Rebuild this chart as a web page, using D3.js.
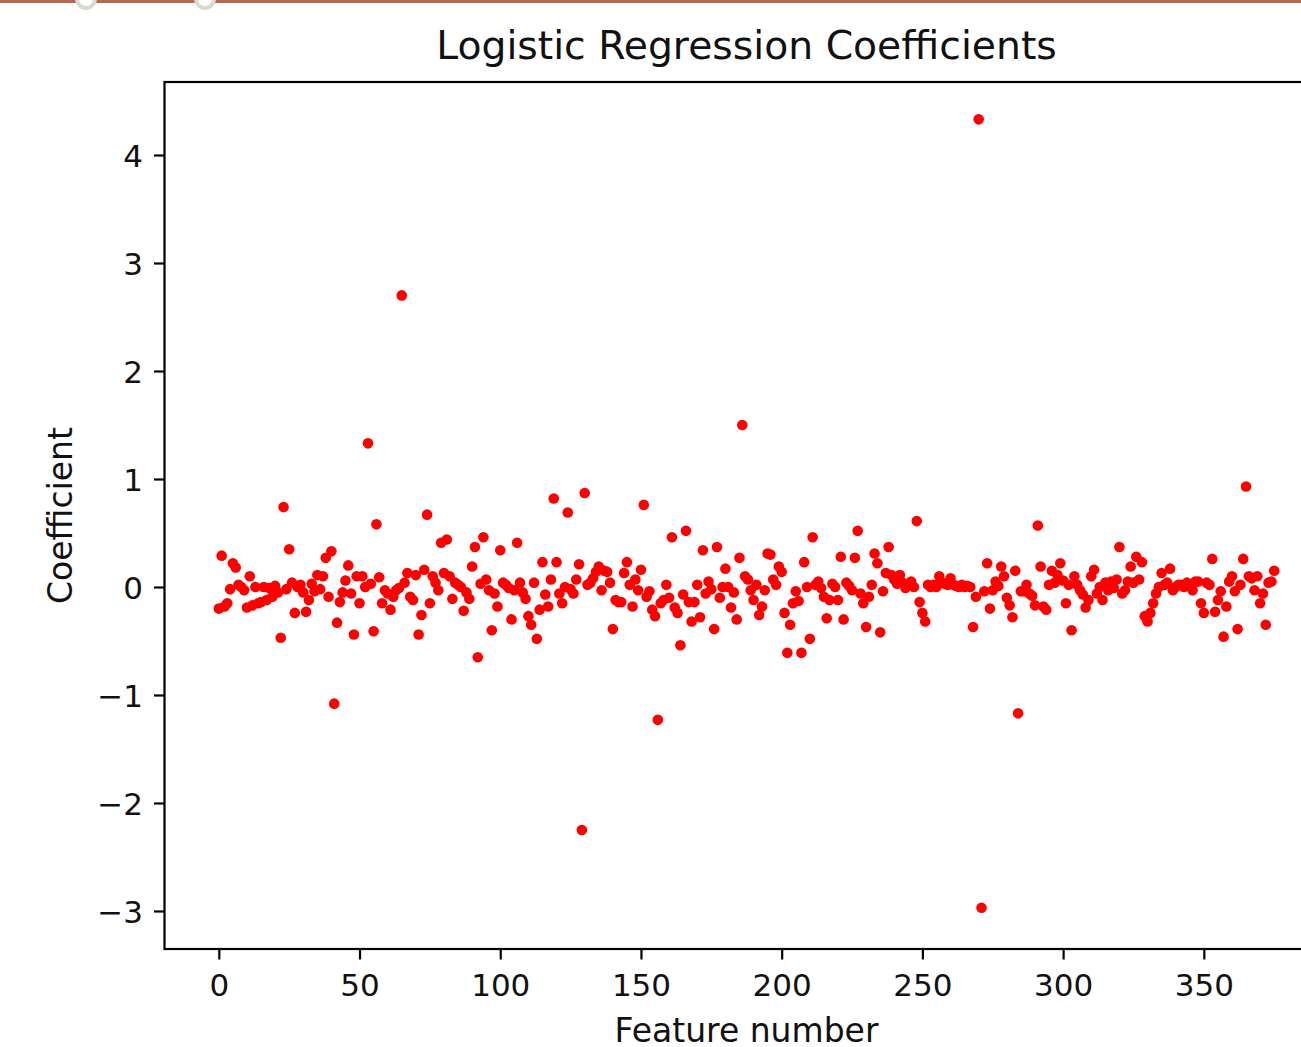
<!DOCTYPE html>
<html>
<head>
<meta charset="utf-8">
<script src="https://cdn.jsdelivr.net/npm/d3@7"></script>
<style>
  body { margin: 0; background: #fff; }
  text { font-family: "DejaVu Sans", sans-serif; fill: #111; }
</style>
</head>
<body>
<svg id="chart"></svg>
<script>
// coefficient of each feature, feature number = position in the array
const coefficients = [
  -0.20, 0.29, -0.18, -0.15, -0.02, 0.22, 0.18, 0.02, 0.00, -0.03,
  -0.19, 0.10, -0.17, 0.00, -0.15, -0.14, 0.00, -0.12, -0.01, -0.09,
  0.01, -0.05, -0.47, 0.74, -0.02, 0.35, 0.04, -0.24, 0.00, 0.02,
  -0.05, -0.23, -0.12, 0.03, -0.04, 0.11, -0.02, 0.10, 0.27, -0.09,
  0.33, -1.08, -0.33, -0.14, -0.05, 0.06, 0.20, -0.06, -0.44, 0.10,
  -0.15, 0.10, 0.00, 1.33, 0.03, -0.41, 0.58, 0.09, -0.15, -0.03,
  -0.06, -0.21, -0.09, -0.03, -0.01, 2.70, 0.04, 0.13, -0.09, -0.12,
  0.11, -0.44, -0.26, 0.16, 0.67, -0.15, 0.10, 0.04, -0.03, 0.41,
  0.13, 0.44, 0.10, -0.11, 0.04, 0.02, 0.00, -0.22, -0.05, -0.11,
  0.19, 0.37, -0.65, 0.03, 0.46, 0.07, -0.03, -0.40, -0.06, -0.18,
  0.34, 0.04, 0.02, -0.01, -0.30, -0.03, 0.41, 0.04, -0.05, -0.11,
  -0.27, -0.35, 0.04, -0.48, -0.21, 0.23, -0.07, -0.18, 0.07, 0.82,
  0.23, -0.06, -0.15, 0.00, 0.69, -0.02, -0.06, 0.07, 0.21, -2.25,
  0.87, 0.02, 0.04, 0.08, 0.14, 0.19, -0.03, 0.15, 0.14, 0.04,
  -0.39, -0.12, -0.14, -0.14, 0.13, 0.23, 0.02, -0.18, 0.07, -0.03,
  0.16, 0.76, -0.09, -0.04, -0.21, -0.27, -1.23, -0.15, -0.12, 0.02,
  -0.10, 0.46, -0.19, -0.24, -0.54, -0.07, 0.52, -0.14, -0.32, -0.14,
  0.02, -0.28, 0.34, -0.06, 0.05, -0.02, -0.39, 0.37, -0.10, 0.00,
  0.17, 0.00, -0.19, -0.05, -0.30, 0.27, 1.50, 0.10, 0.07, -0.03,
  -0.12, 0.02, -0.26, -0.18, -0.03, 0.31, 0.30, 0.07, 0.02, 0.19,
  0.14, -0.24, -0.61, -0.35, -0.15, -0.04, -0.13, -0.61, 0.23, 0.00,
  -0.48, 0.46, 0.02, 0.05, -0.01, -0.09, -0.29, -0.12, 0.03, 0.00,
  -0.12, 0.28, -0.30, 0.04, 0.01, -0.03, 0.27, 0.52, -0.06, -0.15,
  -0.37, -0.09, 0.02, 0.31, 0.22, -0.42, -0.04, 0.13, 0.37, 0.11,
  0.07, 0.03, 0.11, 0.04, -0.01, 0.02, 0.05, 0.00, 0.61, -0.14,
  -0.24, -0.32, 0.02, 0.00, 0.02, 0.00, 0.10, 0.04, 0.03, 0.02,
  0.08, 0.02, 0.01, 0.00, 0.02, 0.00, 0.01, 0.00, -0.37, -0.09,
  4.33, -2.97, -0.04, 0.22, -0.20, -0.03, 0.05, 0.01, 0.19, 0.10,
  -0.10, -0.17, -0.28, 0.15, -1.17, -0.04, -0.04, 0.02, -0.06, -0.08,
  -0.17, 0.57, 0.19, -0.18, -0.21, 0.02, 0.15, 0.04, 0.11, 0.22,
  0.06, -0.15, 0.02, -0.40, 0.10, 0.02, -0.03, -0.07, -0.19, -0.12,
  0.10, 0.16, -0.06, 0.00, -0.12, 0.04, -0.03, 0.05, -0.01, 0.07,
  0.37, -0.06, -0.03, 0.05, 0.19, 0.04, 0.28, 0.07, 0.23, -0.27,
  -0.32, -0.24, -0.15, -0.06, 0.00, 0.13, 0.02, 0.04, 0.17, -0.03,
  0.00, 0.02, 0.02, 0.00, 0.04, 0.02, -0.03, 0.05, 0.05, -0.15,
  -0.24, 0.04, 0.02, 0.26, -0.23, -0.12, -0.04, -0.46, -0.18, 0.05,
  0.10, -0.04, -0.39, 0.02, 0.26, 0.93, 0.10, 0.08, -0.03, 0.10,
  -0.15, -0.06, -0.35, 0.04, 0.05, 0.15
]
const xTicks = [0, 50, 100, 150, 200, 250, 300, 350]
const yTicks = [-3, -2, -1, 0, 1, 2, 3, 4]

const width = 1301
const height = 1047
const plot = { left: 164.5, right: 1328.5, top: 82, bottom: 949 }

const svg = d3.select('#chart')
  .attr('width', width)
  .attr('height', height)

svg.append('rect')
  .attr('width', width)
  .attr('height', height)
  .attr('fill', '#fff')

// bits of the slide this was cut from
svg.append('rect')
  .attr('x', 0).attr('y', 0)
  .attr('width', width).attr('height', 3)
  .attr('fill', '#b5694f')
;[86, 205].forEach(cx => {
  svg.append('circle')
    .attr('cx', cx).attr('cy', -1)
    .attr('r', 9)
    .attr('fill', '#fff')
    .attr('stroke', '#d9d9d4')
    .attr('stroke-width', 4)
})

const x = d3.scaleLinear()
  .domain([-19.3, 394.3])
  .range([plot.left, plot.right])

const y = d3.scaleLinear()
  .domain([-3.352, 4.676])
  .range([plot.bottom, plot.top])

const fmt = d => d < 0 ? '\u2212' + Math.abs(d) : String(d)

// x axis
const xAxis = svg.append('g')
  .attr('class', 'x-axis')
  .attr('transform', 'translate(0,' + plot.bottom + ')')
  .call(d3.axisBottom(x).tickValues(xTicks).tickSize(10.5).tickPadding(14).tickFormat(fmt))
xAxis.select('.domain').remove()
xAxis.selectAll('line').attr('stroke', '#000').attr('stroke-width', 2.2)
xAxis.selectAll('text').attr('font-size', 31).attr('dy', '0.71em')

// y axis
const yAxis = svg.append('g')
  .attr('class', 'y-axis')
  .attr('transform', 'translate(' + plot.left + ',0)')
  .call(d3.axisLeft(y).tickValues(yTicks).tickSize(10.5).tickPadding(11).tickFormat(fmt))
yAxis.select('.domain').remove()
yAxis.selectAll('line').attr('stroke', '#000').attr('stroke-width', 2.2)
yAxis.selectAll('text').attr('font-size', 31).attr('dy', '0.36em')

// points
svg.append('g')
  .attr('class', 'points')
  .selectAll('circle')
  .data(coefficients)
  .join('circle')
  .attr('cx', (d, i) => x(i))
  .attr('cy', d => y(d))
  .attr('r', 5.3)
  .attr('fill', '#ff0000')

// axes frame
svg.append('rect')
  .attr('x', plot.left)
  .attr('y', plot.top)
  .attr('width', plot.right - plot.left)
  .attr('height', plot.bottom - plot.top)
  .attr('fill', 'none')
  .attr('stroke', '#000')
  .attr('stroke-width', 2.2)

// title and labels
const cx = (plot.left + plot.right) / 2
svg.append('text')
  .attr('x', cx)
  .attr('y', 59)
  .attr('text-anchor', 'middle')
  .attr('font-size', 39.3)
  .text('Logistic Regression Coefficients')

svg.append('text')
  .attr('x', cx)
  .attr('y', 1042)
  .attr('text-anchor', 'middle')
  .attr('font-size', 33)
  .text('Feature number')

svg.append('text')
  .attr('transform', 'translate(72,' + ((plot.top + plot.bottom) / 2) + ') rotate(-90)')
  .attr('text-anchor', 'middle')
  .attr('font-size', 33)
  .text('Coefficient')
</script>
</body>
</html>
